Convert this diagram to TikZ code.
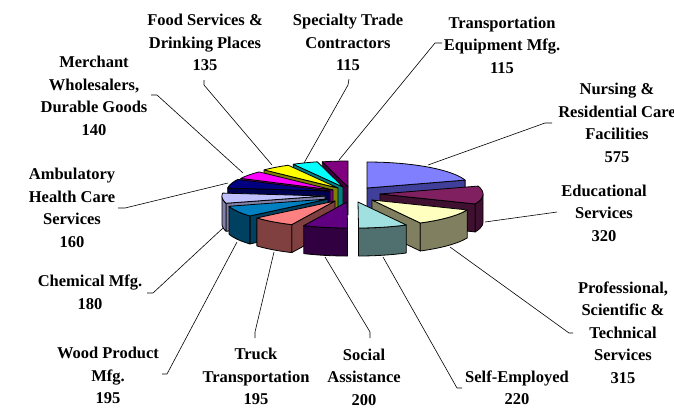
\documentclass[tikz,border=0pt]{standalone}
\usepackage{fontspec}
\setmainfont{Liberation Serif}
\newcommand\lblfont{\bfseries\fontsize{16.5}{22.5}\selectfont}
\newcommand\pieRX{103}
\newcommand\pieRY{26}
\newcommand\pieH{28}
\newcommand\sltop[5]{\filldraw[fill=#5,pie] (#1,#2) -- plot[domain=#3:#4,samples=24] ({#1+\pieRX*sin(\x)},{#2-\pieRY*cos(\x)}) -- cycle;}
\newcommand\slwall[5]{\filldraw[fill=#5,pie] plot[domain=#3:#4,samples=24] ({#1+\pieRX*sin(\x)},{#2-\pieRY*cos(\x)}) -- plot[domain=#4:#3,samples=24] ({#1+\pieRX*sin(\x)},{#2-\pieRY*cos(\x)+\pieH}) -- cycle;}
\newcommand\slcut[4]{\filldraw[fill=#4,pie] (#1,#2) -- ({#1+\pieRX*sin(#3)},{#2-\pieRY*cos(#3)}) -- ({#1+\pieRX*sin(#3)},{#2-\pieRY*cos(#3)+\pieH}) -- (#1,{#2+\pieH}) -- cycle;}
\definecolor{nurT}{HTML}{8080FF}\definecolor{nurS}{HTML}{40409A}
\definecolor{eduT}{HTML}{802060}\definecolor{eduS}{HTML}{401030}
\definecolor{proT}{HTML}{FFFFC0}\definecolor{proS}{HTML}{808060}
\definecolor{selT}{HTML}{A0E0E0}\definecolor{selS}{HTML}{507070}
\definecolor{socT}{HTML}{600080}\definecolor{socS}{HTML}{300040}
\definecolor{truT}{HTML}{FF8080}\definecolor{truS}{HTML}{804040}
\definecolor{wooT}{HTML}{0080C0}\definecolor{wooS}{HTML}{004060}
\definecolor{cheT}{HTML}{C0C0FF}\definecolor{cheS}{HTML}{8080A8}
\definecolor{ambT}{HTML}{000080}\definecolor{ambS}{HTML}{000050}
\definecolor{merT}{HTML}{FF00FF}\definecolor{merS}{HTML}{800080}
\definecolor{fooT}{HTML}{FFFF00}\definecolor{fooS}{HTML}{808000}
\definecolor{speT}{HTML}{00FFFF}\definecolor{speS}{HTML}{008080}
\definecolor{traT}{HTML}{800080}\definecolor{traS}{HTML}{400040}
\begin{document}
\begin{tikzpicture}[x=1pt,y=-1pt,
  pie/.style={draw=black,line width=0.8pt,line join=round},
  lead/.style={draw=black,line width=0.6pt},
  lbl/.style={font=\lblfont,align=center,inner sep=0pt}]
\useasboundingbox (0,0) rectangle (674,408);
\clip (0,0) rectangle (674,408);
\fill[white] (0,0) rectangle (674,408);
% ---- left group (back to front)
\slcut{348}{187}{345.55}{traS}
\sltop{348}{187}{345.55}{360}{traT}
\slcut{343}{187}{331.10}{speS}
\sltop{343}{187}{331.10}{345.55}{speT}
\slcut{338}{188}{314.14}{fooS}
\sltop{338}{188}{314.14}{331.10}{fooT}
\slcut{333}{190}{296.54}{merS}
\sltop{333}{190}{296.54}{314.14}{merT}
\slcut{330}{191}{276.44}{ambS}
\sltop{330}{191}{276.44}{296.54}{ambT}
\slcut{325}{196}{253.82}{cheS}
\slwall{325}{196}{253.82}{270}{cheS}
\sltop{325}{196}{253.82}{276.44}{cheT}
\slcut{328}{199}{229.32}{wooS}
\slwall{328}{199}{229.32}{253.82}{wooS}
\sltop{328}{199}{229.32}{253.82}{wooT}
\slcut{335}{201}{204.82}{truS}
\slwall{335}{201}{204.82}{229.32}{truS}
\sltop{335}{201}{204.82}{229.32}{truT}
\slwall{347}{202}{179.69}{204.82}{socS}
\sltop{347}{202}{179.69}{204.82}{socT}
% ---- right group (back to front)
\slcut{367}{188}{72.25}{nurS}
\sltop{367}{188}{0}{72.25}{nurT}
\slcut{380}{194}{112.46}{eduS}
\slwall{380}{194}{90}{112.46}{eduS}
\sltop{380}{194}{72.25}{112.46}{eduT}
\slcut{372}{200}{152.04}{proS}
\slwall{372}{200}{112.46}{152.04}{proS}
\sltop{372}{200}{112.46}{152.04}{proT}
\slwall{358}{202}{152.04}{179.69}{selS}
\sltop{358}{202}{152.04}{179.69}{selT}
% ---- labels
\node[lbl] (lfood) at (205,43.7) {\strut Food Services \&\\\strut Drinking Places\\\strut 135};
\node[lbl] (lspec) at (348,43.7) {\strut Specialty Trade\\\strut Contractors\\\strut 115};
\node[lbl] (ltran) at (502,46) {\strut Transportation\\\strut Equipment Mfg.\\\strut 115};
\node[lbl] (lnurs) at (617,124) {\strut Nursing \&\\\strut Residential Care\\\strut Facilities\\\strut 575};
\node[lbl] (ledu) at (604,214) {\strut Educational\\\strut Services\\\strut 320};
\node[lbl] (lpro) at (623,333.5) {\strut Professional,\\\strut Scientific \&\\\strut Technical\\\strut Services\\\strut 315};
\node[lbl] (lself) at (517,389) {\strut Self-Employed\\\strut 220};
\node[lbl] (lsoc) at (364,378) {\strut Social\\\strut Assistance\\\strut 200};
\node[lbl] (ltruck) at (256,377.5) {\strut Truck\\\strut Transportation\\\strut 195};
\node[lbl] (lwood) at (108,376.5) {\strut Wood Product\\\strut Mfg.\\\strut 195};
\node[lbl] (lchem) at (90,293.5) {\strut Chemical Mfg.\\\strut 180};
\node[lbl] (lamb) at (72,209) {\strut Ambulatory\\\strut Health Care\\\strut Services\\\strut 160};
\node[lbl] (lmer) at (94,97) {\strut Merchant\\\strut Wholesalers,\\\strut Durable Goods\\\strut 140};
% ---- leader lines
\coordinate (fo1) at (204,80);  \coordinate (fo2) at (204,85);  \coordinate (fo3) at (272,165);
\coordinate (sp1) at (349,79);  \coordinate (sp2) at (348,85);  \coordinate (sp3) at (304,163);
\coordinate (tr1) at (442,43);  \coordinate (tr2) at (435,43);  \coordinate (tr3) at (339,160);
\coordinate (nu1) at (552,123); \coordinate (nu2) at (545,123); \coordinate (nu3) at (428,165);
\coordinate (ed1) at (557,212); \coordinate (ed2) at (550,213); \coordinate (ed3) at (485,222);
\coordinate (pr1) at (573,333); \coordinate (pr2) at (569,333); \coordinate (pr3) at (450,247);
\coordinate (se1) at (462,388); \coordinate (se2) at (457,388); \coordinate (se3) at (383,257);
\coordinate (so1) at (370,338); \coordinate (so2) at (370,332); \coordinate (so3) at (325,257);
\coordinate (tk1) at (255,338); \coordinate (tk2) at (255,332); \coordinate (tk3) at (274,252);
\coordinate (wo1) at (162,374); \coordinate (wo2) at (167,374); \coordinate (wo3) at (237,242);
\coordinate (ch1) at (147,293); \coordinate (ch2) at (153,293); \coordinate (ch3) at (223,228);
\coordinate (am1) at (118,208); \coordinate (am2) at (125,208); \coordinate (am3) at (228,183);
\coordinate (me1) at (151,95);  \coordinate (me2) at (157,95);  \coordinate (me3) at (243,173);
\draw[lead] (fo1) -- (fo2) -- (fo3);
\draw[lead] (sp1) -- (sp2) -- (sp3);
\draw[lead] (tr1) -- (tr2) -- (tr3);
\draw[lead] (nu1) -- (nu2) -- (nu3);
\draw[lead] (ed1) -- (ed2) -- (ed3);
\draw[lead] (pr1) -- (pr2) -- (pr3);
\draw[lead] (se1) -- (se2) -- (se3);
\draw[lead] (so1) -- (so2) -- (so3);
\draw[lead] (tk1) -- (tk2) -- (tk3);
\draw[lead] (wo1) -- (wo2) -- (wo3);
\draw[lead] (ch1) -- (ch2) -- (ch3);
\draw[lead] (am1) -- (am2) -- (am3);
\draw[lead] (me1) -- (me2) -- (me3);
\end{tikzpicture}
\end{document}
